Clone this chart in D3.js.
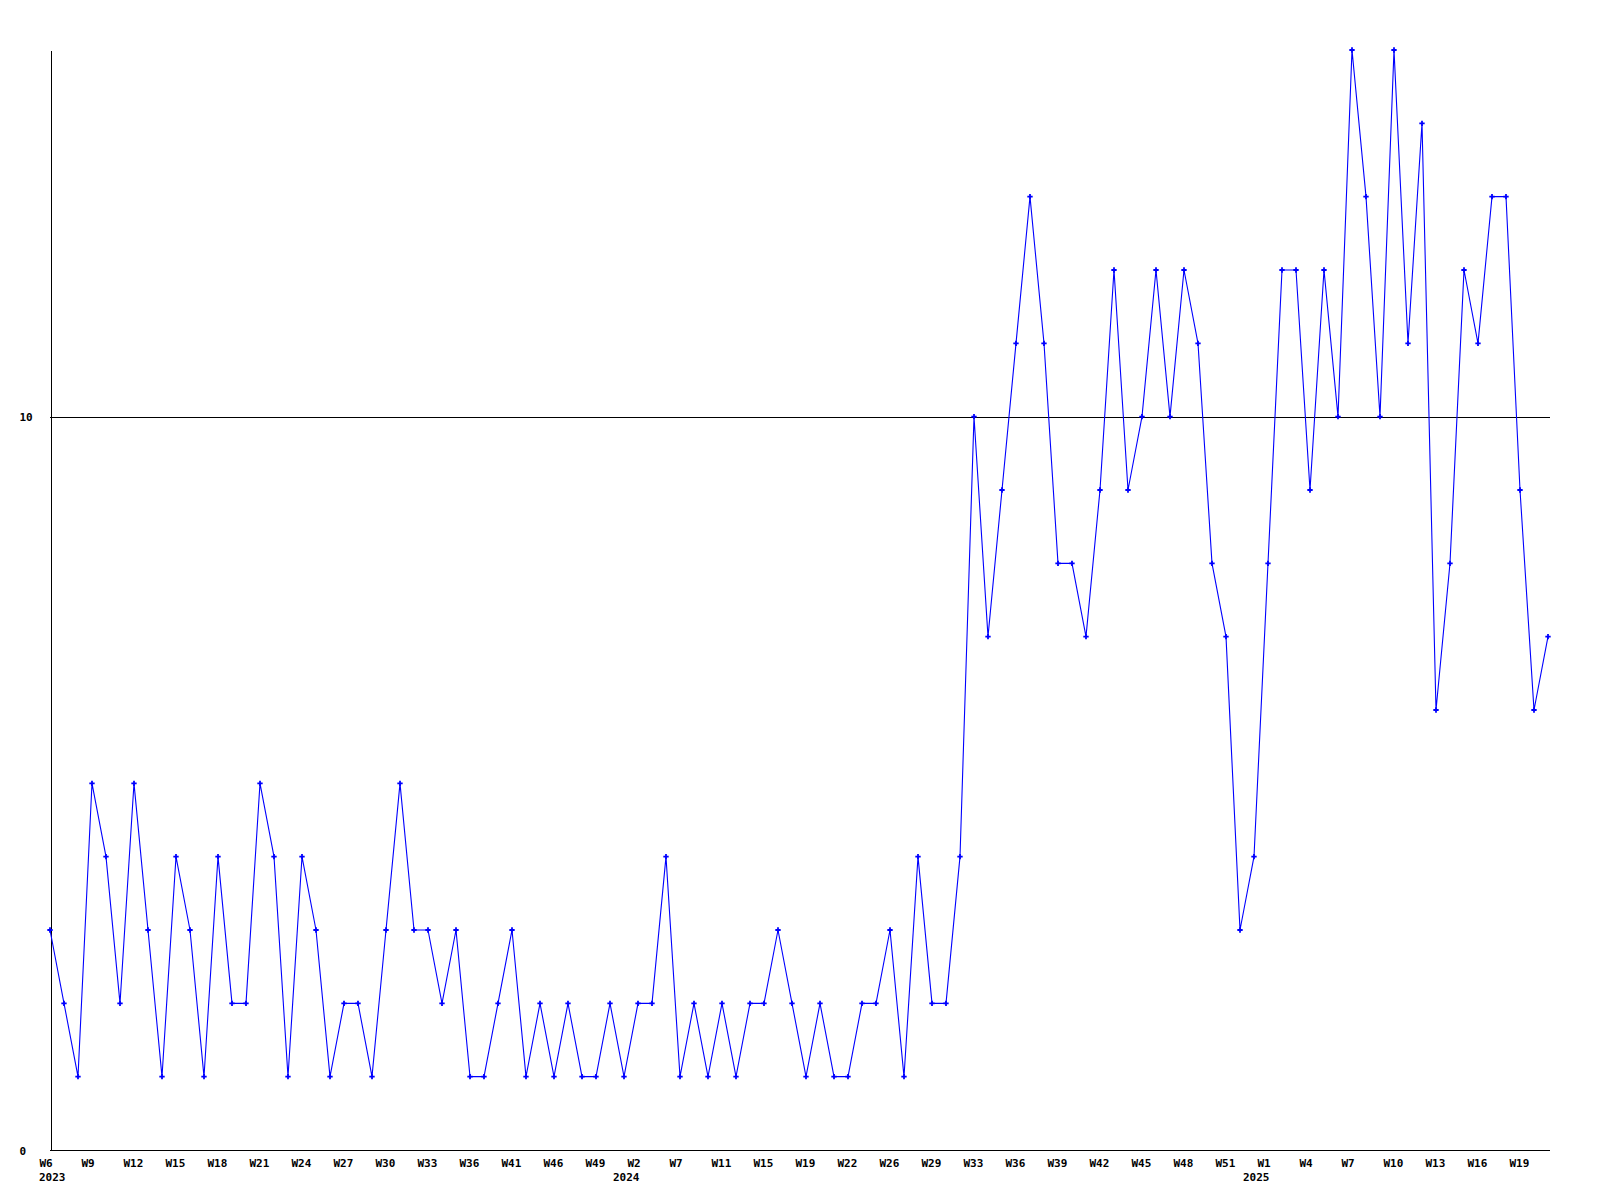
<!DOCTYPE html>
<html>
<head>
<meta charset="utf-8">
<script src="https://cdn.jsdelivr.net/npm/d3@7/dist/d3.min.js"></script>
<style>
  html, body { margin: 0; padding: 0; background: #ffffff; }
  svg { display: block; }
  text { font-family: "DejaVu Sans Mono", monospace; font-weight: bold; font-size: 11px; fill: #000; }
</style>
</head>
<body>
<svg id="chart" width="1600" height="1200"></svg>
<script>
// ---- data ----
const values = [
  3,2,1,5,4,2,5,3,1,4,3,1,4,2,2,5,4,1,4,3,1,2,2,1,3,5,3,3,2,3,1,1,2,
  3,1,2,1,2,1,1,2,1,2,2,4,1,2,1,2,1,2,2,3,2,1,2,1,1,2,2,3,1,4,2,2,4,
  10,7,9,11,13,11,8,8,7,9,12,9,10,12,10,12,11,8,7,3,4,8,12,12,9,12,10,15,13,10,15,11,14,6,8,12,11,13,13,9,6,7
];
const weekLabels = ["W6","W9","W12","W15","W18","W21","W24","W27","W30","W33","W36","W41","W46","W49",
  "W2","W7","W11","W15","W19","W22","W26","W29","W33","W36","W39","W42","W45","W48","W51",
  "W1","W4","W7","W10","W13","W16","W19"];
const weekLabelStep = 3;
const yearLabels = ["2023","2024","2025"];
const yearLabelIndex = [0, 41, 86];
const yTicks = [0, 10];
const refLine = 10;

// ---- layout ----
const svg = d3.select("#chart");
const mLeft = 50, mRight = 1550, mTop = 50, mBottom = 1150;

const x = d3.scaleLinear().domain([0, values.length - 1]).range([mLeft, mRight - 2]);
const y = d3.scaleLinear().domain([0, 15]).range([mBottom, mTop]);

// reference line at 10
svg.append("line")
  .attr("x1", mLeft).attr("x2", mRight)
  .attr("y1", Math.round(y(refLine)) + 0.5).attr("y2", Math.round(y(refLine)) + 0.5)
  .attr("stroke", "#000").attr("stroke-width", 1)
  .attr("shape-rendering", "crispEdges");

// x axis
const tickIdx = weekLabels.map((d, i) => i * weekLabelStep);
const xAxis = d3.axisBottom(x)
  .tickValues(tickIdx)
  .tickFormat((d, i) => weekLabels[i])
  .tickSize(0)
  .tickSizeOuter(0);
const gx = svg.append("g")
  .attr("transform", `translate(0,${mBottom + 0.5})`)
  .call(xAxis);
gx.attr("font-family", null).attr("font-size", null);
gx.select(".domain").attr("stroke", "#000").attr("shape-rendering", "crispEdges")
  .attr("d", `M${mLeft},0H${mRight}`);
gx.selectAll(".tick text")
  .attr("text-anchor", "start")
  .attr("dx", -11).attr("y", 0).attr("dy", 16);

// year labels
svg.append("g").selectAll("text")
  .data(yearLabels)
  .join("text")
  .attr("x", (d, i) => x(yearLabelIndex[i]) - 11)
  .attr("y", mBottom + 31)
  .attr("text-anchor", "start")
  .text(d => d);

// y axis
const yAxis = d3.axisLeft(y).tickValues(yTicks).tickSize(0).tickSizeOuter(0).tickFormat(d3.format("d"));
const gy = svg.append("g")
  .attr("transform", `translate(${mLeft + 0.5},0)`)
  .call(yAxis);
gy.attr("font-family", null).attr("font-size", null);
gy.select(".domain").attr("stroke", "#000").attr("shape-rendering", "crispEdges");
gy.selectAll(".tick text")
  .attr("text-anchor", "start")
  .attr("x", -(mLeft - 19)).attr("dy", 4);

// line
const line = d3.line().x((d, i) => x(i)).y(d => y(d));
svg.append("path")
  .datum(values)
  .attr("fill", "none")
  .attr("stroke", "#0000ff")
  .attr("stroke-width", 1.1)
  .attr("d", line);

// markers
const sym = d3.symbol().type(d3.symbolCross).size(16);
svg.append("g").selectAll("path")
  .data(values)
  .join("path")
  .attr("transform", (d, i) => `translate(${x(i)},${y(d)})`)
  .attr("d", sym)
  .attr("fill", "#0000ff");
</script>
</body>
</html>
